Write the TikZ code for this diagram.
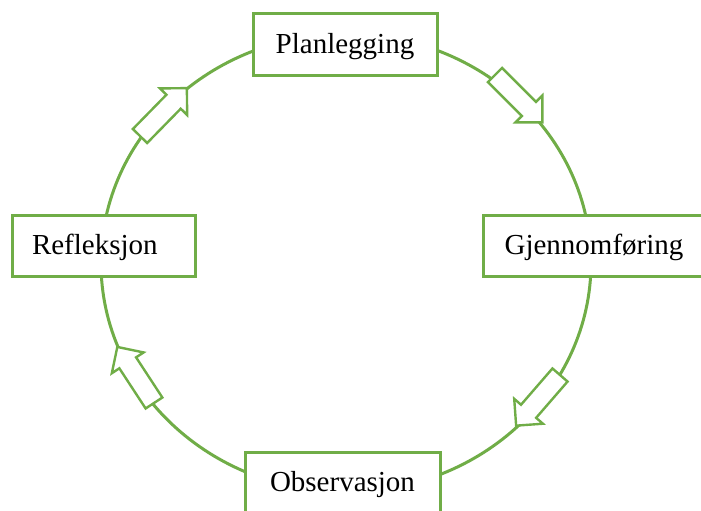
\documentclass[tikz,border=0pt]{standalone}
\usepackage{fontspec}
\setmainfont{Liberation Serif}
\definecolor{leaf}{HTML}{70AD47}
\tikzset{
  stage/.style={draw=leaf, line width=3pt, fill=white, rectangle,
    anchor=base, minimum height=61pt, inner ysep=0pt,
    text height=21.5pt, text depth=4.5pt,
    font=\fontsize{29}{34}\selectfont},
  ring/.style={draw=leaf, line width=3pt},
  flowarrow/.pic={
    \draw[leaf, line width=2.4pt, fill=white, line join=miter]
      (0,-10) -- (48,-10) -- (48,-19) -- (67,0) -- (48,19) -- (48,10) -- (0,10) -- cycle;
  }
}
\begin{document}
\begin{tikzpicture}[x=1pt,y=-1pt]
  \useasboundingbox (0,0) rectangle (701,511);
  \clip (0,0) rectangle (701,511);

  % the cycle itself
  \coordinate (hub) at (346,263);
  \draw[ring] (hub) ellipse [x radius=245pt, y radius=229pt];

  % direction arrows sitting on the ring
  \pic[rotate=-45]    at (495,75)  {flowarrow};
  \pic[rotate=-130.9] at (560,375) {flowarrow};
  \pic[rotate=123.2]  at (154,403) {flowarrow};
  \pic[rotate=45.6]   at (140,136) {flowarrow};

  % the four stages
  \node[stage, minimum width=184pt] (plan) at (345,53) {Planlegging};
  \node[stage, minimum width=222pt] (gjen) at (594,254) {Gjennomføring};
  \node[stage, minimum width=195pt] (obs)  at (342.5,491) {Observasjon};
  \node[stage, text width=143pt, align=left, inner xsep=20pt] (refl) at (103.5,254) {Refleksjon};
\end{tikzpicture}
\end{document}
